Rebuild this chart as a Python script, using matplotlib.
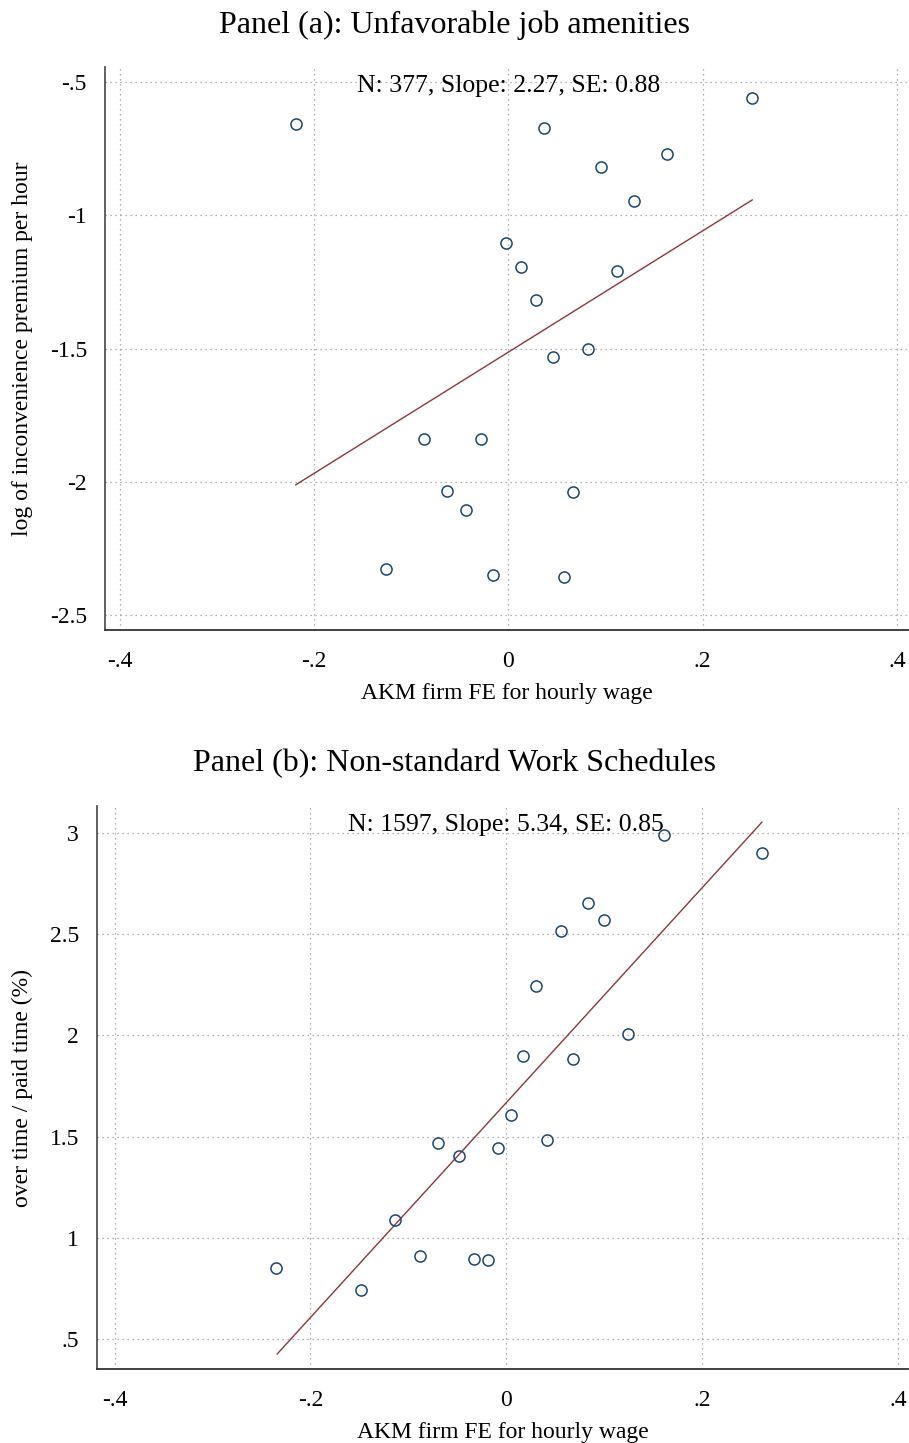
import matplotlib
matplotlib.use("Agg")
import matplotlib.pyplot as plt
import numpy as np

plt.rcParams["font.family"] = ["Liberation Serif", "DejaVu Serif"]

# Panel (a): binned scatter, 20 bins
a_x = [-0.219, 0.037, 0.251, 0.095, 0.163, 0.129, -0.003, 0.013, 0.112, 0.028,
       0.046, 0.082, -0.087, -0.028, -0.063, 0.066, -0.044, -0.126, -0.016, 0.057]
a_y = [-0.657, -0.672, -0.560, -0.819, -0.770, -0.946, -1.104, -1.194, -1.209, -1.317,
       -1.531, -1.501, -1.839, -1.839, -2.034, -2.037, -2.105, -2.326, -2.349, -2.356]
a_fit_x = [-0.219, 0.251]
a_fit_y = [-2.011, -0.942]
a_note = "N: 377, Slope: 2.27, SE: 0.88"

# Panel (b)
b_x = [-0.235, -0.148, -0.114, -0.088, -0.070, -0.048, -0.033, -0.019, -0.008, 0.005,
       0.017, 0.030, 0.042, 0.056, 0.068, 0.083, 0.100, 0.124, 0.161, 0.261]
b_y = [0.851, 0.742, 1.088, 0.910, 1.468, 1.404, 0.895, 0.890, 1.444, 1.607,
       1.898, 2.244, 1.483, 2.516, 1.883, 2.654, 2.570, 2.007, 2.990, 2.901]
b_fit_x = [-0.234, 0.261]
b_fit_y = [0.426, 3.054]
b_note = "N: 1597, Slope: 5.34, SE: 0.85"

x_ticks = [-0.4, -0.2, 0, 0.2, 0.4]
x_labels = ["-.4", "-.2", "0", ".2", ".4"]
a_ticks = [-0.5, -1, -1.5, -2, -2.5]
a_labels = ["-.5", "-1", "-1.5", "-2", "-2.5"]
b_ticks = [3, 2.5, 2, 1.5, 1, 0.5]
b_labels = ["3", "2.5", "2", "1.5", "1", ".5"]

navy = "#1a476f"
maroon = "#90353b"

fig = plt.figure(figsize=(9.09, 14.43), dpi=100)


def panel(rect, xs, ys, fx, fy, note, yticks, ylabels, xlim, ylim, ylabel):
    ax = fig.add_axes(rect)
    ax.plot(xs, ys, "o", mfc="none", mec=navy, ms=8, mew=1.1, zorder=3)
    ax.plot(fx, fy, color=maroon, lw=1.0, zorder=2)
    ax.set_xlim(xlim)
    ax.set_ylim(ylim)
    ax.set_xticks(x_ticks)
    ax.set_xticklabels(x_labels)
    ax.set_yticks(yticks)
    ax.set_yticklabels(ylabels)
    ax.tick_params(length=0, labelsize=17, pad=13)
    ax.tick_params(axis="x", pad=15)
    ax.grid(True, linestyle=(0, (1, 3)), color="#999999", lw=0.9)
    for s in ["top", "right"]:
        ax.spines[s].set_visible(False)
    ax.spines["left"].set_color("#555555")
    ax.spines["bottom"].set_color("#333333")
    ax.spines["left"].set_linewidth(1.3)
    ax.spines["bottom"].set_linewidth(1.3)
    ax.set_xlabel("AKM firm FE for hourly wage", fontsize=17, labelpad=8)
    ax.set_ylabel(ylabel, fontsize=17, labelpad=12)
    ax.text(0, 0.987, note, transform=ax.get_xaxis_transform(),
            ha="center", va="top", fontsize=18.5)
    return ax


panel([0.1155, 0.5634, 0.884, 0.390], a_x, a_y, a_fit_x, a_fit_y, a_note,
      a_ticks, a_labels, (-0.4155, 0.412), (-2.556, -0.444),
      "log of inconvenience premium per hour")
fig.text(0.5, 0.9828, "Panel (a): Unfavorable job amenities",
         ha="center", va="center", fontsize=23)

panel([0.1067, 0.0513, 0.892, 0.390], b_x, b_y, b_fit_x, b_fit_y, b_note,
      b_ticks, b_labels, (-0.418, 0.41), (0.352, 3.133),
      "over time / paid time (%)")
fig.text(0.5, 0.4710, "Panel (b): Non-standard Work Schedules",
         ha="center", va="center", fontsize=23)

fig.savefig("out.png", dpi=100)
